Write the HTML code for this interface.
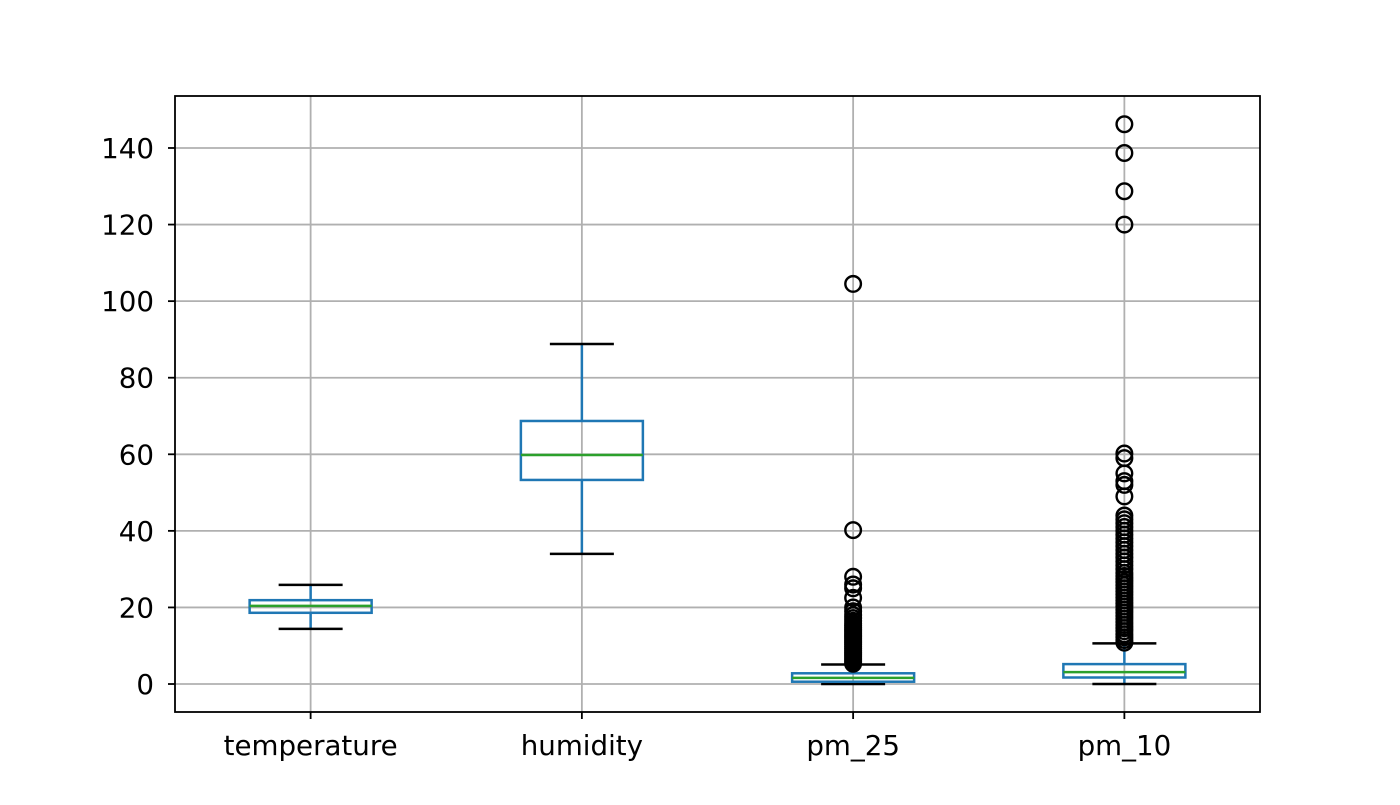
<!DOCTYPE html>
<html><head><meta charset="utf-8"><style>
body{margin:0;background:#fff;}
svg text{font-family:"DejaVu Sans","Liberation Sans",sans-serif;font-size:27.7px;fill:#000;}
</style></head><body>
<svg id="chart" width="1400" height="800" xmlns="http://www.w3.org/2000/svg"></svg>
<script>
const categories = ["temperature","humidity","pm_25","pm_10"];
const q1 = [18.6, 53.3, 0.6, 1.7];
const q3 = [21.9, 68.7, 2.8, 5.2];
const medians = [20.4, 59.8, 1.6, 3.1];
const whiskLow = [14.4, 34.0, 0.0, 0.0];
const whiskHigh = [25.9, 88.8, 5.1, 10.6];
const outPm25 = [5.3,5.8,6.3,6.8,7.3,7.8,8.3,8.8,9.3,9.8,10.3,10.8,11.3,11.8,12.3,12.8,13.3,13.8,14.3,14.8,15.3,15.8,16.5,17.2,18,19,20,22.5,25,26,28,40.2,104.5];
const outPm10 = [10.8,11.5,12.2,13,13.8,14.6,15.4,16.2,17,17.8,18.6,19.4,20.2,21,21.8,22.6,23.4,24.2,25,25.8,26.6,27.4,28.2,29,30,31,32,33,34,35,36,37,38,39,40,41,42,43,44,49,52,53,55,59,60.2,120,128.7,138.7,146.2];
const outliers = [[], [], outPm25, outPm10];
const yTicks = [0,20,40,60,80,100,120,140];

const L=175,R=1260,T=96,B=712;
const yMin=-7.31,yMax=153.58;
const y=v=>B-(v-yMin)/(yMax-yMin)*(B-T);
const x=i=>L+(i+0.5)*(R-L)/categories.length;
const ns="http://www.w3.org/2000/svg";
const svg=document.getElementById('chart');
function mk(tag,attrs,parent){const e=document.createElementNS(ns,tag);for(const k in attrs)e.setAttribute(k,attrs[k]);(parent||svg).appendChild(e);return e;}

const grid=mk('g',{});


yTicks.forEach(t=>{const l=mk('line',{x1:L,x2:R,y1:y(t),y2:y(t),stroke:'#b0b0b0','stroke-width':1.8},grid);

});
categories.forEach((c,i)=>{const l=mk('line',{x1:x(i),x2:x(i),y1:T,y2:B,stroke:'#b0b0b0','stroke-width':1.8},grid);

});

const bw=122, cw=64, sw=2.5;
categories.forEach((c,i)=>{
  const g=mk('g',{});
  
  
  const cx=x(i);
  mk('line',{x1:cx,x2:cx,y1:y(q3[i]),y2:y(whiskHigh[i]),stroke:'#1f77b4','stroke-width':sw},g);
  mk('line',{x1:cx,x2:cx,y1:y(q1[i]),y2:y(whiskLow[i]),stroke:'#1f77b4','stroke-width':sw},g);
  mk('line',{x1:cx-cw/2,x2:cx+cw/2,y1:y(whiskHigh[i]),y2:y(whiskHigh[i]),stroke:'#000','stroke-width':sw},g);
  mk('line',{x1:cx-cw/2,x2:cx+cw/2,y1:y(whiskLow[i]),y2:y(whiskLow[i]),stroke:'#000','stroke-width':sw},g);
  mk('rect',{x:cx-bw/2,y:y(q3[i]),width:bw,height:y(q1[i])-y(q3[i]),fill:'none',stroke:'#1f77b4','stroke-width':sw},g);
  mk('line',{x1:cx-bw/2,x2:cx+bw/2,y1:y(medians[i]),y2:y(medians[i]),stroke:'#2ca02c','stroke-width':sw},g);
  outliers[i].forEach(v=>{const o=mk('circle',{cx:cx,cy:y(v),r:7.8,fill:'none',stroke:'#000','stroke-width':2.4},g);
    
    });
  mk('line',{x1:cx,x2:cx,y1:B,y2:B+7,stroke:'#000','stroke-width':1.8});
  const t=mk('text',{x:cx,y:755,'text-anchor':'middle'});
  t.textContent=c;
  
  
});
yTicks.forEach(v=>{
  mk('line',{x1:L-7,x2:L,y1:y(v),y2:y(v),stroke:'#000','stroke-width':1.8});
  const t=mk('text',{x:L-21,y:y(v)+10,'text-anchor':'end'});
  t.textContent=v;
  
  
});
const frame=mk('rect',{x:L,y:T,width:R-L,height:B-T,fill:'none',stroke:'#000','stroke-width':1.8});


</script>
</body></html>
